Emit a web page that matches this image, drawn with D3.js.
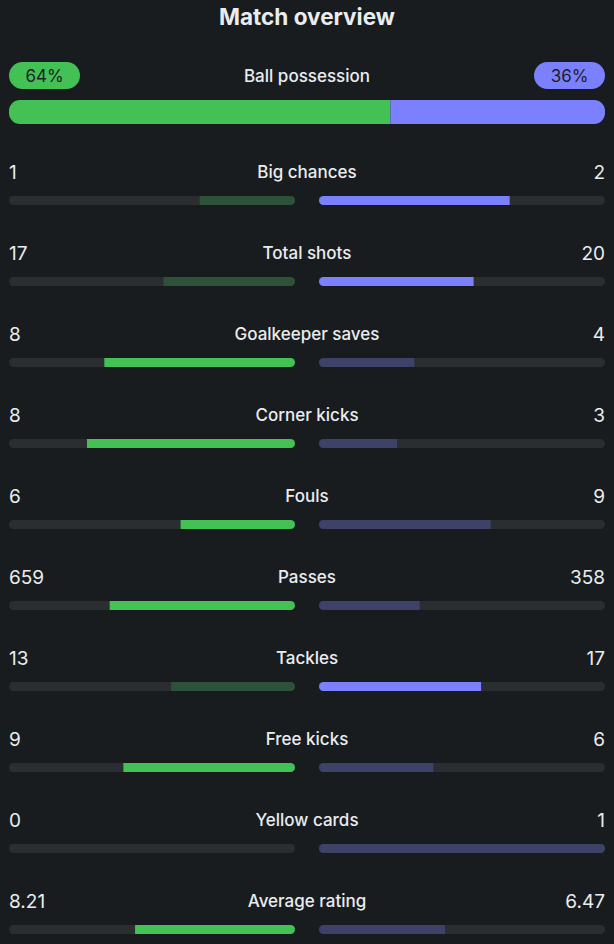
<!DOCTYPE html>
<html>
<head>
<meta charset="utf-8">
<script src="https://cdn.jsdelivr.net/npm/d3@7"></script>
<style>
  html, body { margin: 0; padding: 0; background: #181c1f; }
  svg { display: block; }
  text { font-family: Inter, "Noto Sans", sans-serif; }
</style>
</head>
<body>
<svg id="chart" width="614" height="944"></svg>
<script>
const title = "Match overview";
const possessionLabel = "Ball possession";
const possession = [64, 36];

const categories = ["Big chances", "Total shots", "Goalkeeper saves", "Corner kicks", "Fouls",
  "Passes", "Tackles", "Free kicks", "Yellow cards", "Average rating"];
const homeValues = [1, 17, 8, 8, 6, 659, 13, 9, 0, 8.21];
const awayValues = [2, 20, 4, 3, 9, 358, 17, 6, 1, 6.47];
const homeLabels = ["1", "17", "8", "8", "6", "659", "13", "9", "0", "8.21"];
const awayLabels = ["2", "20", "4", "3", "9", "358", "17", "6", "1", "6.47"];
const better = ["away", "away", "home", "home", "home", "home", "away", "home", "home", "home"];

const W = 614;
const TRACK = "#2a2e31", TEXT = "#e9edf0";
const GREEN = "#44c155", GREEN_DIM = "#2e5239";
const PURPLE = "#7b80ff", PURPLE_DIM = "#3e4268";

const svg = d3.select("#chart");
const defs = svg.append("defs");

svg.append("text").attr("x", W / 2).attr("y", 25).attr("text-anchor", "middle")
  .attr("fill", TEXT).attr("font-size", 22.5).attr("font-weight", 700).text(title);

// Possession
const px = d3.scaleLinear().domain([0, 100]).range([9, 605]);
const pillW = 71, pillH = 27, pillY = 62;
svg.append("rect").attr("x", px(0)).attr("y", pillY).attr("width", pillW).attr("height", pillH)
  .attr("rx", pillH / 2).attr("fill", GREEN);
svg.append("text").attr("x", px(0) + pillW / 2).attr("y", pillY + 19.5).attr("text-anchor", "middle")
  .attr("fill", "#1b1f22").attr("font-size", 17).attr("font-weight", 400).text(possession[0] + "%");
svg.append("rect").attr("x", px(100) - pillW).attr("y", pillY).attr("width", pillW).attr("height", pillH)
  .attr("rx", pillH / 2).attr("fill", PURPLE);
svg.append("text").attr("x", px(100) - pillW / 2).attr("y", pillY + 19.5).attr("text-anchor", "middle")
  .attr("fill", "#1b1f22").attr("font-size", 17).attr("font-weight", 400).text(possession[1] + "%");
svg.append("text").attr("x", W / 2).attr("y", 81.5).attr("text-anchor", "middle")
  .attr("fill", TEXT).attr("font-size", 17).attr("font-weight", 500).text(possessionLabel);

const barY = 100, barH = 24;
defs.append("clipPath").attr("id", "pclip").append("rect")
  .attr("x", px(0)).attr("y", barY).attr("width", px(100) - px(0)).attr("height", barH).attr("rx", 11);
const pg = svg.append("g").attr("clip-path", "url(#pclip)");
pg.append("rect").attr("x", px(0)).attr("y", barY).attr("width", px(possession[0]) - px(0))
  .attr("height", barH).attr("fill", GREEN);
pg.append("rect").attr("x", px(possession[0])).attr("y", barY).attr("width", px(100) - px(possession[0]))
  .attr("height", barH).attr("fill", PURPLE);

// Stat rows
const y = d3.scalePoint().domain(categories).range([171, 171 + 81 * (categories.length - 1)]);
const leftX = d3.scaleLinear().domain([0, 1]).range([295, 9]);
const rightX = d3.scaleLinear().domain([0, 1]).range([319, 605]);
const trackH = 9;

categories.forEach((c, i) => {
  const cy = y(c);
  const g = svg.append("g");
  g.append("text").attr("x", 9).attr("y", cy + 7.5).attr("fill", TEXT)
    .attr("font-size", 19).attr("font-weight", 400).text(homeLabels[i]);
  g.append("text").attr("x", 605).attr("y", cy + 7.5).attr("text-anchor", "end").attr("fill", TEXT)
    .attr("font-size", 19).attr("font-weight", 400).text(awayLabels[i]);
  g.append("text").attr("x", W / 2).attr("y", cy + 7).attr("text-anchor", "middle").attr("fill", TEXT)
    .attr("font-size", 17).attr("font-weight", 500).text(c);

  const total = homeValues[i] + awayValues[i];
  const hs = total ? homeValues[i] / total : 0;
  const as = total ? awayValues[i] / total : 0;
  const ty = cy + 25;

  const lid = "lclip" + i, rid = "rclip" + i;
  defs.append("clipPath").attr("id", lid).append("rect")
    .attr("x", leftX(1)).attr("y", ty).attr("width", leftX(0) - leftX(1)).attr("height", trackH).attr("rx", trackH / 2);
  defs.append("clipPath").attr("id", rid).append("rect")
    .attr("x", rightX(0)).attr("y", ty).attr("width", rightX(1) - rightX(0)).attr("height", trackH).attr("rx", trackH / 2);

  const lg = g.append("g").attr("clip-path", `url(#${lid})`);
  lg.append("rect").attr("x", leftX(1)).attr("y", ty).attr("width", leftX(0) - leftX(1)).attr("height", trackH).attr("fill", TRACK);
  lg.append("rect").attr("x", leftX(hs)).attr("y", ty).attr("width", leftX(0) - leftX(hs)).attr("height", trackH)
    .attr("fill", better[i] === "home" ? GREEN : GREEN_DIM);

  const rg = g.append("g").attr("clip-path", `url(#${rid})`);
  rg.append("rect").attr("x", rightX(0)).attr("y", ty).attr("width", rightX(1) - rightX(0)).attr("height", trackH).attr("fill", TRACK);
  rg.append("rect").attr("x", rightX(0)).attr("y", ty).attr("width", rightX(as) - rightX(0)).attr("height", trackH)
    .attr("fill", better[i] === "away" ? PURPLE : PURPLE_DIM);
});
</script>
</body>
</html>
